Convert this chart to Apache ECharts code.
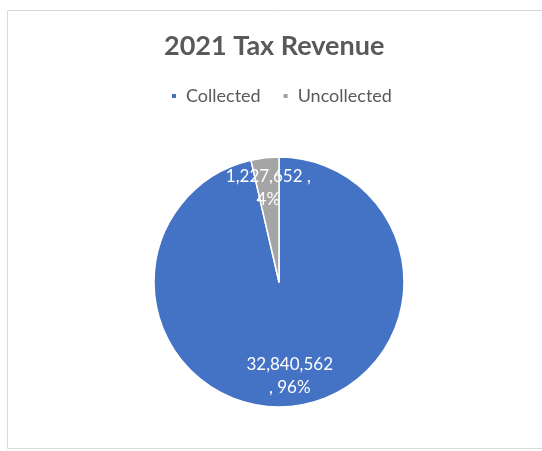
<!DOCTYPE html>
<html>
<head>
<meta charset="utf-8">
<script src="https://cdn.jsdelivr.net/npm/echarts@6/dist/echarts.min.js"></script>
<style>
html,body{margin:0;padding:0;background:#fff;}
#chart{width:542px;height:451px;}
</style>
</head>
<body>
<div id="chart"></div>
<script>
const titleText = '2021 Tax Revenue';
const categories = ['Collected', 'Uncollected'];
const values = [32840562, 1227652];
const colors = ['#4472C4', '#A5A5A5'];

const chart = echarts.init(document.getElementById('chart'), null, {renderer: 'canvas'});
const W = 542, H = 451;
const cx = 279, cy = 282, R = 125;

function fmt(n) { return n.toLocaleString('en-US'); }

const option = {
  backgroundColor: '#fff',
  animation: false,
  graphic: [{
    type: 'rect',
    shape: {x: 7.5, y: 10.5, width: 545, height: 438},
    style: {fill: 'none', stroke: '#d9d9d9', lineWidth: 1},
    silent: true
  }],
  title: {
    text: titleText,
    left: 159,
    top: 28,
    textStyle: {fontFamily: 'Lato', fontWeight: 'bold', fontSize: 27, color: '#595959'}
  },
  legend: {
    data: categories,
    top: 82,
    left: 165,
    icon: 'rect',
    itemWidth: 6,
    itemHeight: 6,
    itemGap: 21,
    textStyle: {fontFamily: 'Lato', fontSize: 18, color: '#595959', padding: [0, 0, 0, 4]}
  },
  series: [{
    type: 'pie',
    center: [cx / W * 100 + '%', cy / H * 100 + '%'],
    radius: R,
    startAngle: 90,
    clockwise: true,
    percentPrecision: 0,
    itemStyle: {borderColor: '#fff', borderWidth: 1.5},
    label: {
      show: true,
      position: 'inside',
      color: '#fff',
      fontFamily: 'Lato',
      fontSize: 17,
      lineHeight: 23,
      formatter: function (p) {
        return p.dataIndex === 0
          ? fmt(p.value) + '\n, ' + p.percent + '%'
          : fmt(p.value) + ' ,\n' + p.percent + '%';
      }
    },
    labelLayout: function (p) {
      const r = p.labelRect;
      const lx = r.x + r.width / 2, ly = r.y + r.height / 2;
      const k = 1.45;
      return {dx: (lx - cx) * (k - 1), dy: (ly - cy) * (k - 1)};
    },
    emphasis: {disabled: true},
    data: categories.map((c, i) => ({name: c, value: values[i], itemStyle: {color: colors[i]}}))
  }]
};
chart.setOption(option);
</script>
</body>
</html>
